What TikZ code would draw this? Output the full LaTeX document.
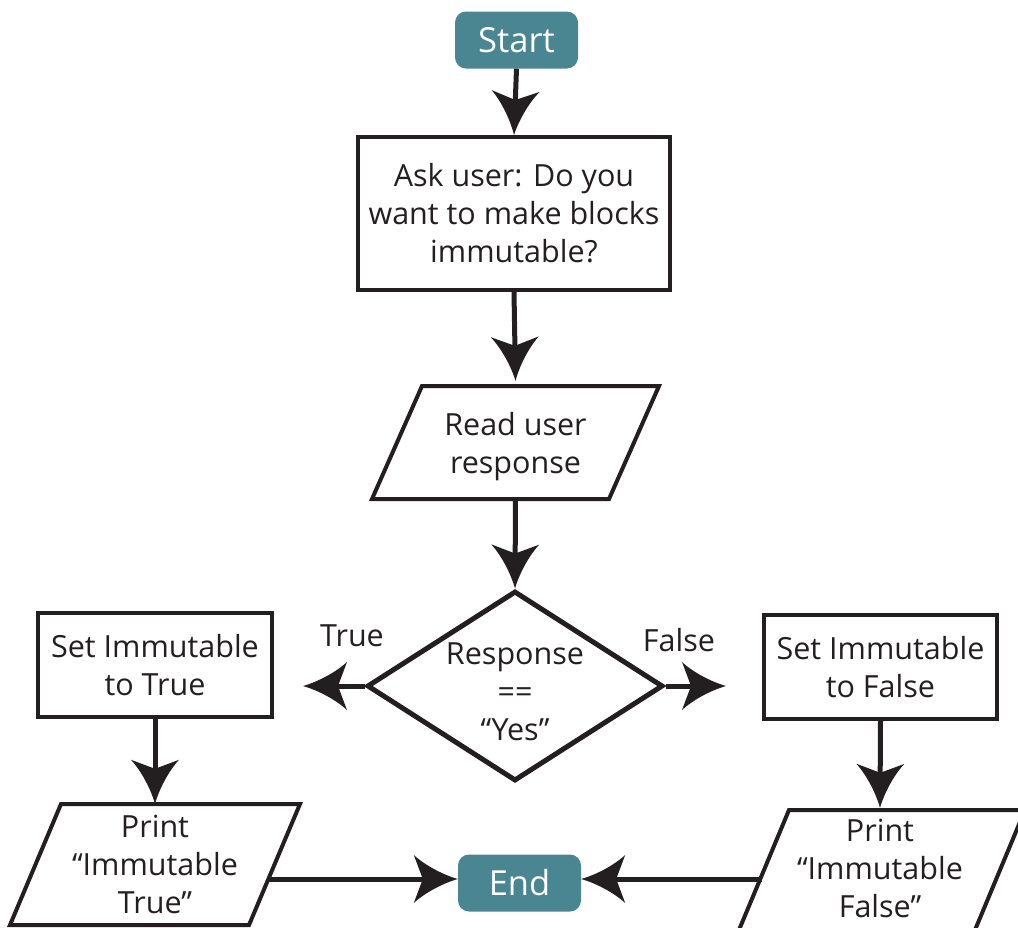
\documentclass[tikz,border=0pt]{standalone}
\usepackage{fontspec}
\setmainfont{Open Sans}
\usetikzlibrary{shapes.geometric,arrows.meta}
\definecolor{ink}{HTML}{231F20}
\definecolor{termteal}{RGB}{74,134,145}

% Large barbed arrow head with concave sides
\pgfdeclarearrow{
  name = Barb,
  setup code = {
    \pgfarrowssettipend{0pt}
    \pgfarrowssetlineend{-25pt}
    \pgfarrowssetbackend{-44pt}
    \pgfarrowshullpoint{0pt}{0pt}
    \pgfarrowshullpoint{-44pt}{24pt}
    \pgfarrowshullpoint{-44pt}{-24pt}
  },
  drawing code = {
    \pgfpathmoveto{\pgfpoint{0pt}{0pt}}
    \pgfpathcurveto{\pgfpoint{-14pt}{4pt}}{\pgfpoint{-32pt}{13pt}}{\pgfpoint{-44pt}{24pt}}
    \pgfpathlineto{\pgfpoint{-35pt}{0pt}}
    \pgfpathlineto{\pgfpoint{-44pt}{-24pt}}
    \pgfpathcurveto{\pgfpoint{-32pt}{-13pt}}{\pgfpoint{-14pt}{-4pt}}{\pgfpoint{0pt}{0pt}}
    \pgfpathclose
    \pgfusepathqfill
  }
}

\begin{document}
\begin{tikzpicture}[x=1pt,y=-1pt,
  txt/.style={font=\fontsize{30.5}{38}\selectfont, text=ink, align=center},
  term/.style={rounded corners=11pt, fill=termteal, text=white,
    font=\fontsize{34.5}{40}\selectfont, minimum width=123pt,
    minimum height=57pt, inner sep=0pt},
  proc/.style={txt, draw=ink, line width=4pt, inner sep=0pt},
  io/.style={draw=ink, line width=4pt, line join=miter},
  iotext/.style={txt, inner sep=0pt},
  arr/.style={color=ink, line width=5pt, -Barb}]
\useasboundingbox (0,0) rectangle (1018,927);

% terminals
\node[term] (start) at (516.5,40) {Start};
\node[term] (endn) at (519.5,883) {End};

% prompt
\node[proc, minimum width=312pt, minimum height=153pt] (ask) at (514,213.5)
  {Ask user: Do you\\want to make blocks\\immutable?};

% input
\draw[io] (422,386) -- (659,386) -- (609,499) -- (372,499) -- cycle;
\node[iotext, minimum width=238pt, minimum height=113pt] (read) at (515.5,442.5) {};
\node[txt] (readtext) at (515.5,446.5) {Read user\\response};

% decision
\node[diamond, draw=ink, line width=5pt, minimum width=296pt,
  minimum height=190pt, inner sep=0pt] (dec) at (515,686) {};
\node[txt] (dectext) at (515,692) {Response\\==\\“Yes”};
\node[txt] (lt) at (352,636) {True};
\node[txt] (lf) at (679,640) {False};
\coordinate (ttip) at (303,686);
\coordinate (ftip) at (726,686);

% branch actions
\node[proc, minimum width=234pt, minimum height=104pt] (setT) at (155,665)
  {Set Immutable\\to True};
\node[proc, minimum width=233pt, minimum height=104pt] (setF) at (880.5,667)
  {Set Immutable\\to False};

% outputs
\draw[io] (61,804) -- (300,804) -- (249,925) -- (10,925) -- cycle;
\node[iotext, minimum width=224pt, minimum height=121pt] (ptrue) at (155,864.5)
  {Print\\“Immutable\\True”};
\draw[io] (789,810) -- (1025,810) -- (975,930) -- (739,930) -- cycle;
\node[iotext, minimum width=236pt, minimum height=120pt] (pfalse) at (880,868)
  {Print\\“Immutable\\False”};

% connectors
\path ([yshift=4pt]endn.west) coordinate (inL)
      ([yshift=4pt]endn.east) coordinate (inR);
\draw[arr] (start.south) -- (ask.north);
\draw[arr] (ask.south) -- ([yshift=5pt]read.north);
\draw[arr] (read.south) -- (dec.north);
\draw[arr] (dec.west) -- (ttip);
\draw[arr] (dec.east) -- (ftip);
\draw[arr] (setT.south) -- (ptrue.north);
\draw[arr] (setF.south) -- (pfalse.north);
\draw[arr] (ptrue.east |- inL) -- (inL);
\draw[arr] (pfalse.west |- inR) -- (inR);
\end{tikzpicture}
\end{document}
